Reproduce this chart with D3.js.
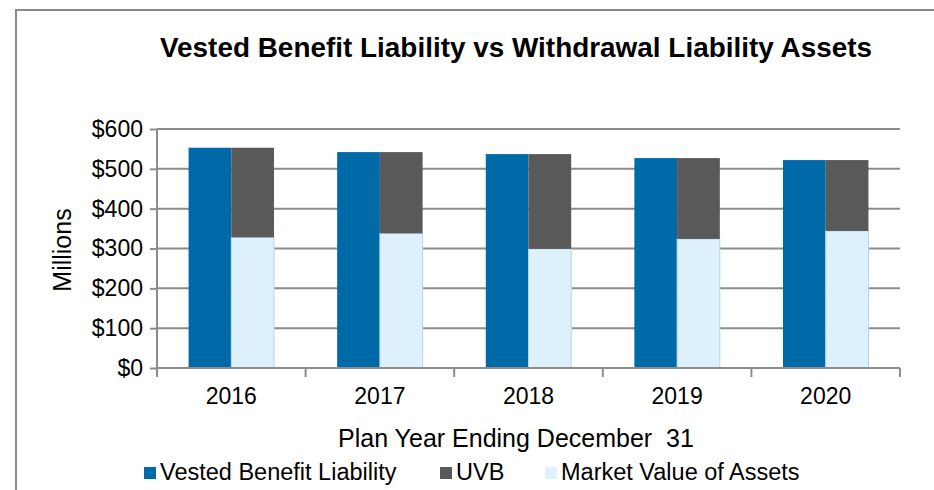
<!DOCTYPE html>
<html>
<head>
<meta charset="utf-8">
<script src="https://cdn.jsdelivr.net/npm/d3@7"></script>
<style>
  body { margin: 0; background: #fff; }
  svg { display: block; font-family: "Liberation Sans", Arial, sans-serif; }
</style>
</head>
<body>
<div id="chart"></div>
<script>
// chart data (millions of dollars)
const years = ['2016', '2017', '2018', '2019', '2020'];
const vestedBenefit = [553, 542, 537, 527, 522];
const marketValue = [328, 338, 299, 324, 344];
const yTicks = [0, 100, 200, 300, 400, 500, 600];
const seriesNames = ['Vested Benefit Liability', 'UVB', 'Market Value of Assets'];
const seriesColors = ['#0069a7', '#595959', '#ddf1fc'];

const width = 934, height = 490;
const margin = {top: 129, right: 34, bottom: 122, left: 157};
const innerW = width - margin.left - margin.right;
const innerH = height - margin.top - margin.bottom;

const svg = d3.select('#chart').append('svg')
    .attr('width', width)
    .attr('height', height);

// outer frame (runs off the right and bottom edges)
svg.append('rect')
    .attr('x', 16).attr('y', 10)
    .attr('width', 960).attr('height', 520)
    .attr('fill', 'none')
    .attr('stroke', '#898989')
    .attr('stroke-width', 2);

svg.append('text')
    .attr('x', 516).attr('y', 57)
    .attr('text-anchor', 'middle')
    .attr('font-size', 28)
    .attr('font-weight', 'bold')
    .attr('textLength', 712)
    .attr('lengthAdjust', 'spacingAndGlyphs')
    .text('Vested Benefit Liability vs Withdrawal Liability Assets');

const chart = svg.append('g')
    .attr('transform', `translate(${margin.left},${margin.top})`);

const x = d3.scaleBand().domain(years).range([0, innerW]).paddingInner(0.425).paddingOuter(0.2125);
const y = d3.scaleLinear().domain([0, 600]).range([innerH, 0]);

// gridlines
chart.selectAll('.grid')
    .data(yTicks.filter(d => d > 0))
  .join('line')
    .attr('class', 'grid')
    .attr('x1', 0).attr('x2', innerW)
    .attr('y1', d => y(d)).attr('y2', d => y(d))
    .attr('stroke', '#8c8c8c')
    .attr('stroke-width', 2);

// bars
const half = x.bandwidth() / 2;
const groups = chart.selectAll('.year')
    .data(years.map((yr, i) => ({yr, vbl: vestedBenefit[i], mva: marketValue[i], uvb: vestedBenefit[i] - marketValue[i]})))
  .join('g')
    .attr('class', 'year')
    .attr('transform', d => `translate(${x(d.yr)},0)`);

groups.append('rect')
    .attr('x', 0).attr('width', half)
    .attr('y', d => y(d.vbl)).attr('height', d => innerH - y(d.vbl))
    .attr('fill', seriesColors[0]);

groups.append('rect')
    .attr('x', half).attr('width', half)
    .attr('y', d => y(d.mva)).attr('height', d => innerH - y(d.mva))
    .attr('fill', seriesColors[2])
    .attr('stroke', '#b9d3e3').attr('stroke-width', 1);

groups.append('rect')
    .attr('x', half).attr('width', half)
    .attr('y', d => y(d.vbl)).attr('height', d => y(d.mva) - y(d.vbl))
    .attr('fill', seriesColors[1]);

// y axis
const yAxis = chart.append('g')
    .call(d3.axisLeft(y).tickValues(yTicks).tickSize(7).tickPadding(7).tickFormat(d => '$' + d));
yAxis.select('.domain').attr('stroke', '#8c8c8c').attr('stroke-width', 2).attr('d', `M0,${innerH + 9}V0`);
yAxis.selectAll('.tick line').attr('stroke', '#8c8c8c').attr('stroke-width', 2);
yAxis.selectAll('.tick text').attr('font-size', 23).attr('fill', '#000').attr('font-family', '"Liberation Sans", Arial, sans-serif');

// x axis
const xAxis = chart.append('g')
    .attr('transform', `translate(0,${innerH})`)
    .call(d3.axisBottom(x).tickSize(0).tickPadding(20));
xAxis.select('.domain').attr('stroke', '#8c8c8c').attr('stroke-width', 2).attr('d', `M0,0H${innerW}`);
xAxis.selectAll('.tick text').attr('font-size', 23).attr('fill', '#000').attr('font-family', '"Liberation Sans", Arial, sans-serif');
xAxis.selectAll('.sep')
    .data(d3.range(years.length + 1))
  .join('line')
    .attr('class', 'sep')
    .attr('x1', i => i * innerW / years.length).attr('x2', i => i * innerW / years.length)
    .attr('y1', 0).attr('y2', 9)
    .attr('stroke', '#8c8c8c').attr('stroke-width', 2);

// axis titles
svg.append('text')
    .attr('transform', 'translate(71,250) rotate(-90)')
    .attr('text-anchor', 'middle')
    .attr('font-size', 25)
    .text('Millions');

svg.append('text')
    .attr('x', 516).attr('y', 447)
    .attr('text-anchor', 'middle')
    .attr('font-size', 25)
    .attr('xml:space', 'preserve')
    .text('Plan Year Ending December  31');

// legend
const legendX = [144, 440, 545];
const legend = svg.selectAll('.legend')
    .data(seriesNames)
  .join('g')
    .attr('class', 'legend')
    .attr('transform', (d, i) => `translate(${legendX[i]},467)`);
legend.append('rect')
    .attr('width', 12).attr('height', 12)
    .attr('fill', (d, i) => seriesColors[i]);
legend.append('text')
    .attr('x', 16).attr('y', 13)
    .attr('font-size', 23.5)
    .text(d => d);
</script>
</body>
</html>
